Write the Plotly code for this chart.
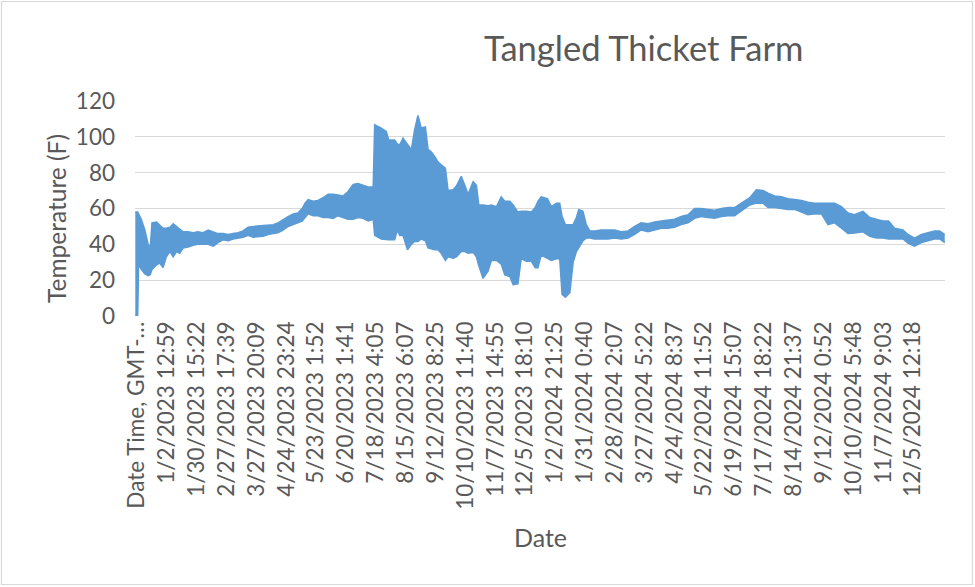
import plotly.graph_objects as go

# Tick labels of the category axis (one label every N samples)
tick_labels = [
    "Date Time, GMT-…", "1/2/2023 12:59", "1/30/2023 15:22", "2/27/2023 17:39",
    "3/27/2023 20:09", "4/24/2023 23:24", "5/23/2023 1:52", "6/20/2023 1:41",
    "7/18/2023 4:05", "8/15/2023 6:07", "9/12/2023 8:25", "10/10/2023 11:40",
    "11/7/2023 14:55", "12/5/2023 18:10", "1/2/2024 21:25", "1/31/2024 0:40",
    "2/28/2024 2:07", "3/27/2024 5:22", "4/24/2024 8:37", "5/22/2024 11:52",
    "6/19/2024 15:07", "7/17/2024 18:22", "8/14/2024 21:37", "9/12/2024 0:52",
    "10/10/2024 5:48", "11/7/2024 9:03", "12/5/2024 12:18",
]

# Sample position along the category axis (in units of label intervals)
sample_pos = [
    -0.06, 0.02, 0.05, 0.14, 0.26, 0.37, 0.44, 0.50, 0.65, 0.76, 0.87, 0.98, 1.10, 1.21, 1.32,
    1.43, 1.54, 1.71, 1.88, 2.04, 2.21, 2.38, 2.55, 2.71, 2.88, 3.05, 3.22, 3.38, 3.55, 3.72,
    3.89, 4.22, 4.39, 4.56, 4.72, 4.89, 5.06, 5.23, 5.39, 5.53, 5.63, 5.73, 5.90, 6.06, 6.23,
    6.40, 6.57, 6.73, 6.90, 7.07, 7.24, 7.40, 7.57, 7.74,
    7.91, 7.96, 8.18, 8.35, 8.43, 8.63, 8.72, 8.80, 8.91, 9.06, 9.19, 9.30, 9.41, 9.52, 9.66,
    9.75, 9.86, 9.97, 10.08, 10.19, 10.33, 10.42, 10.59, 10.70, 10.86, 10.98, 11.09, 11.26,
    11.37, 11.45, 11.59, 11.76,
    11.87, 12.04, 12.20, 12.32, 12.49, 12.60, 12.76, 12.87, 13.04, 13.21, 13.34, 13.43, 13.54,
    13.75, 13.88, 14.05, 14.16, 14.24, 14.35, 14.50, 14.61, 14.72, 14.80, 14.94, 15.05, 15.17,
    15.33, 15.55, 15.78,
    16.00, 16.22, 16.45, 16.67, 16.89, 17.12, 17.34, 17.56, 17.79, 18.01, 18.23, 18.46, 18.68,
    18.90, 19.13, 19.35, 19.58, 19.80,
    20.02, 20.25, 20.53, 20.75, 20.97, 21.14, 21.36, 21.59, 21.81, 22.03, 22.26, 22.48, 22.70,
    22.93, 23.15, 23.37, 23.60, 23.82,
    24.04, 24.32, 24.55, 24.77, 24.99, 25.18, 25.38, 25.66, 25.83, 26.05, 26.28, 26.50, 26.72,
    26.89, 27.06,
]

# Upper envelope of the temperature trace (F)
temp_high = [
    58, 58, 57, 54, 48, 40, 38, 52, 52.5, 51, 49, 49, 49.5, 51.5, 50,
    48, 47, 47, 46.5, 47, 46.5, 48, 47, 46, 46, 45.5, 46, 46.5, 47.5, 49.5,
    50, 50.5, 51, 51, 52, 54, 55.5, 57, 57.5, 60, 63, 65, 64, 64.5, 66,
    68, 68, 67.5, 67, 69.5, 73.5, 74, 73, 72,
    72, 106.7, 104.8, 103, 98.3, 98.3, 96, 95.5, 99.3, 95.5, 92.8, 104, 112, 105, 105.5,
    93, 91.5, 89, 86, 84.4, 82.5, 70, 70.5, 72.5, 78, 73, 68, 75,
    73, 62, 62, 61.5,
    62, 61, 66.5, 64, 64, 62, 58, 58.5, 58.5, 58, 60.5, 64, 66.5,
    65.5, 61, 63, 63, 55.5, 51, 51, 51, 55, 59.5, 58.5, 51, 47.5,
    47.5, 48, 48,
    48, 47, 47.5, 50, 52, 51.5, 52.5, 53, 53.5, 54, 55.5, 56.5, 60,
    60, 59.5, 59, 60, 60.5,
    60.5, 63, 66, 70.5, 70, 68.5, 67, 66.5, 65.5, 65, 64.5, 63.5, 63,
    63, 63, 63, 61, 57.5,
    56.5, 58.4, 55, 54, 53, 53, 49, 48, 45.5, 43.5, 45.5, 46.5, 47.5,
    47.5, 45.5,
]

# Lower envelope of the temperature trace (F)
temp_low = [
    0, 0, 29, 26, 23.5, 22.5, 23, 26, 28.5, 29.5, 27, 33, 36, 33, 36,
    35, 38, 38.5, 39.5, 40, 40, 40, 39, 41, 42.5, 42, 43, 43.5, 44, 45,
    44, 44.5, 45.5, 46, 46.5, 48, 50, 51, 52, 53, 55, 57, 56, 56, 55,
    55, 54.5, 56, 55, 54, 54, 55, 54.5, 53,
    54, 45, 43, 42.6, 42.6, 42.6, 48, 45, 45, 37, 40, 41.6, 41.6, 43, 42,
    38, 37.5, 37, 37, 35, 31, 33, 32.3, 33, 36, 36, 35, 35.5,
    33, 28, 21, 25,
    31, 31, 29, 23, 22, 17.5, 18, 32, 30.5, 30.5, 27, 27, 34,
    32, 31, 32, 32, 12, 10.5, 13, 30, 36, 38, 42, 43.5, 43.5,
    43, 43, 43,
    43.5, 43, 43.5, 45.5, 48, 47, 48, 49, 49, 49.5, 51, 52, 54.5,
    55.5, 55, 54.5, 55.5, 56,
    56, 58.5, 62, 63, 63, 60.5, 60.5, 60, 59.5, 59.5, 58, 56.5, 57,
    57, 51, 52, 49, 46,
    46.3, 47, 44.5, 43.5, 43.5, 43, 43, 43, 40.7, 39, 41, 42, 43,
    43, 41,
]

y_ticks = [0, 20, 40, 60, 80, 100, 120]

LINE = "#5B9BD5"
TXT = "#595959"
GRID = "#D9D9D9"
FONT = "Lato, 'Open Sans', sans-serif"

fig = go.Figure()
fig.add_trace(go.Scatter(
    x=sample_pos, y=temp_low, mode="lines",
    line=dict(color=LINE, width=1.5), hoverinfo="skip", showlegend=False,
))
fig.add_trace(go.Scatter(
    x=sample_pos, y=temp_high, mode="lines", fill="tonexty", fillcolor=LINE,
    line=dict(color=LINE, width=1.5), hoverinfo="skip", showlegend=False,
))

L, R, T, B = 135, 30, 101, 271
W, H = 975, 587
pw, ph = W - L - R, H - T - B


def px(xp):
    return (xp - L) / pw


def py(yp):
    return (H - B - yp) / ph


fig.update_layout(
    width=W, height=H,
    margin=dict(l=L, r=R, t=T, b=B),
    paper_bgcolor="white", plot_bgcolor="white",
    font=dict(family=FONT, color=TXT),
    hovermode=False,
    xaxis=dict(
        range=[-0.07, 27.07],
        tickmode="array",
        tickvals=list(range(len(tick_labels))),
        ticktext=tick_labels,
        tickangle=-90,
        tickfont=dict(size=22.5, color=TXT, family=FONT),
        showgrid=False, zeroline=False, showline=False, ticks="",
    ),
    yaxis=dict(
        range=[0, 120],
        tickvals=y_ticks,
        tickfont=dict(size=22.5, color=TXT, family=FONT),
        showgrid=True, gridcolor=GRID, gridwidth=1.3,
        zeroline=False, showline=False, ticks="",
        ticklabelstandoff=19,
    ),
    showlegend=False,
    annotations=[
        dict(text="Tangled Thicket Farm", x=px(643), y=py(47), xref="paper", yref="paper",
             showarrow=False, font=dict(size=34.5, color=TXT, family=FONT),
             xanchor="center", yanchor="middle"),
        dict(text="Temperature (F)", x=px(56), y=py(219), xref="paper", yref="paper",
             showarrow=False, textangle=-90, font=dict(size=24.5, color=TXT, family=FONT),
             xanchor="center", yanchor="middle"),
        dict(text="Date", x=px(540), y=py(537), xref="paper", yref="paper",
             showarrow=False, font=dict(size=25, color=TXT, family=FONT),
             xanchor="center", yanchor="middle"),
    ],
    shapes=[
        dict(type="rect", xref="paper", yref="paper",
             x0=px(1.5), x1=px(972.5), y0=py(584.5), y1=py(1.5),
             line=dict(color=GRID, width=1.2), fillcolor="rgba(0,0,0,0)", layer="below"),
    ],
)

fig.write_html(
    "out.html",
    config={"displayModeBar": False, "staticPlot": True},
    post_script="document.body.style.margin='0';document.body.style.overflow='hidden';",
)
